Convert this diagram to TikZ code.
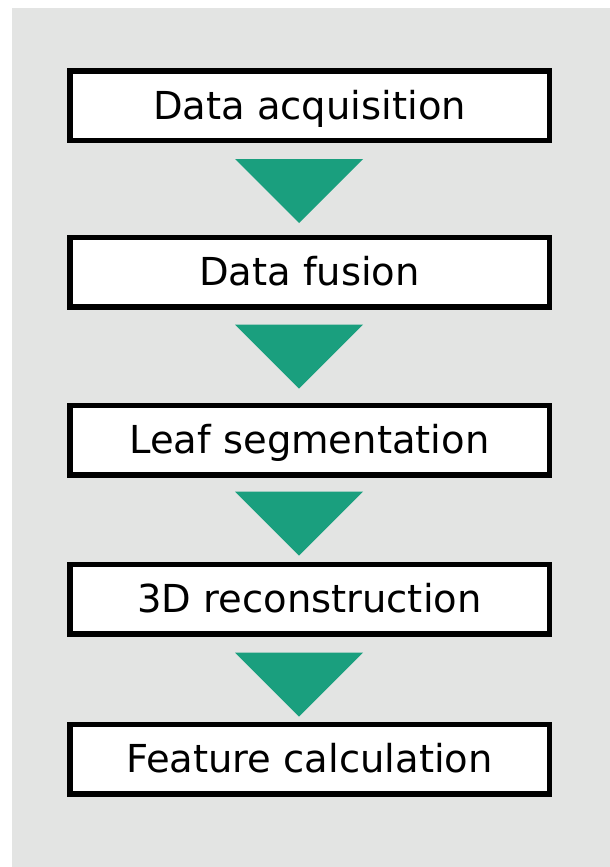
\documentclass[tikz,border=0pt]{standalone}
\usepackage{fontspec}
\setmainfont{DejaVu Sans}
\usetikzlibrary{calc}
\definecolor{panelgray}{RGB}{227,228,227}
\definecolor{flowgreen}{RGB}{26,159,126}
\begin{document}
\begin{tikzpicture}[x=1pt,y=-1pt,
  stage/.style={draw=black, fill=white, line width=5.5pt,
    minimum width=479.5pt, minimum height=69.5pt, inner sep=0pt,
    text height=27.5pt, text depth=0pt,
    font=\fontsize{38.5}{44}\selectfont},
  flowarrow/.style={fill=flowgreen, draw=none}]
  \useasboundingbox (0,0) rectangle (610,867);
  \fill[panelgray] (12,8) rectangle (610,867);

  \node[stage] (s1) at (309.5,105.5) {Data acquisition};
  \node[stage] (s2) at (309.5,272)   {Data fusion};
  \node[stage] (s3) at (309.5,440)   {Leaf segmentation};
  \node[stage] (s4) at (309.5,599)   {3D reconstruction};
  \node[stage] (s5) at (309.5,759)   {Feature calculation};

  % downward triangles between consecutive stages
  \foreach \a/\gap in {s1/16, s2/15, s3/14, s4/16}{
    \fill[flowarrow] ($(\a.south)+(-74.5,\gap)$) -- ($(\a.south)+(53.5,\gap)$)
      -- ($(\a.south)+(-10.5,\gap+64)$) -- cycle;
  }
\end{tikzpicture}
\end{document}
